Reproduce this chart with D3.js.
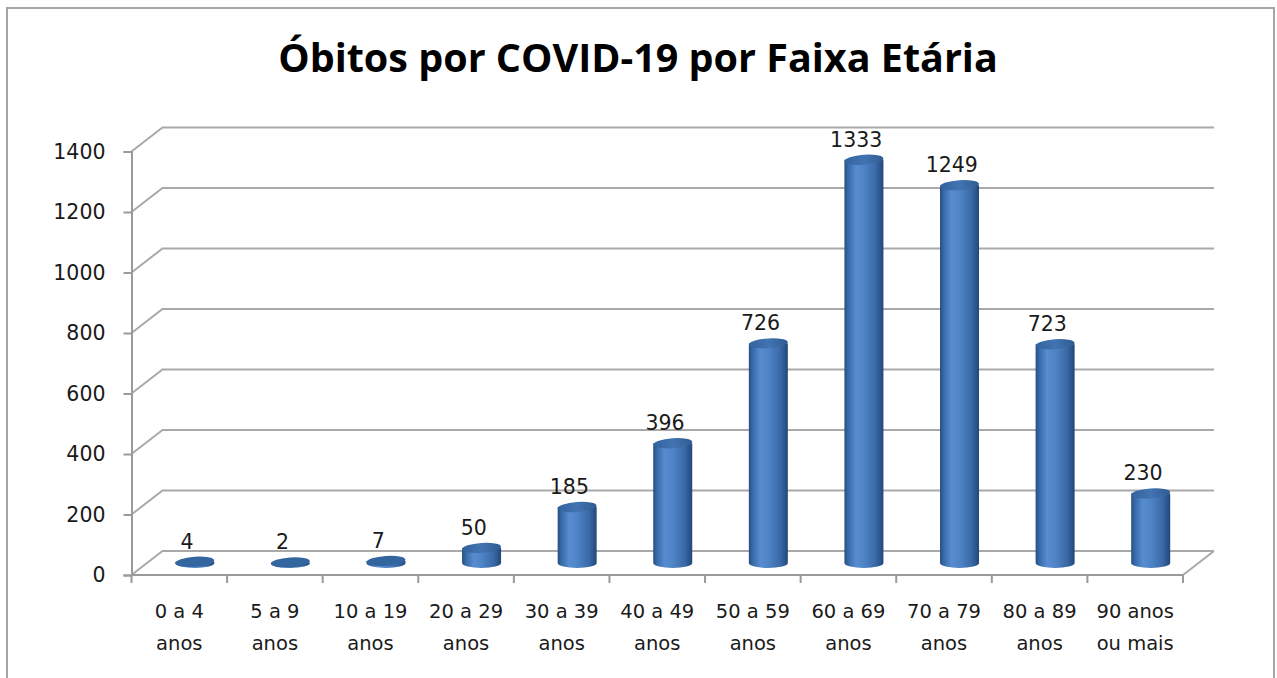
<!DOCTYPE html>
<html>
<head>
<meta charset="utf-8">
<script src="https://cdnjs.cloudflare.com/ajax/libs/d3/7.8.5/d3.min.js"></script>
<style>
  body { margin: 0; background: #fff; }
  svg text { font-family: "DejaVu Sans", sans-serif; fill: #1a1a1a; }
</style>
</head>
<body>
<div id="chart"></div>
<script>
const categories = ['0 a 4|anos', '5 a 9|anos', '10 a 19|anos', '20 a 29|anos', '30 a 39|anos',
                    '40 a 49|anos', '50 a 59|anos', '60 a 69|anos', '70 a 79|anos', '80 a 89|anos',
                    '90 anos|ou mais'];
const deaths = [4, 2, 7, 50, 185, 396, 726, 1333, 1249, 723, 230];
const yTicks = [0, 200, 400, 600, 800, 1000, 1200, 1400];
const title = 'Óbitos por COVID-19 por Faixa Etária';

const w = 1277,
      h = 678,
      depthX = 31,
      depthY = -24;

const svg = d3.select('#chart')
              .append('svg')
              .attr('width', w)
              .attr('height', h);

// outer frame
svg.append('rect')
   .attr('x', 7).attr('y', 8)
   .attr('width', 1267).attr('height', 700)
   .attr('fill', 'none')
   .attr('stroke', '#a6a6a6')
   .attr('stroke-width', 2);

svg.append('text')
   .attr('x', 638)
   .attr('y', 72)
   .attr('text-anchor', 'middle')
   .style('font-family', '"Open Sans", sans-serif')
   .style('font-weight', 'bold')
   .style('font-size', '39.5px')
   .style('fill', '#000')
   .text(title);

const x = d3.scaleBand()
            .domain(categories)
            .range([131.5, 1183]);

const y = d3.scaleLinear()
            .domain([0, 1400])
            .range([575, 151.5]);

// gradients for the cylinders
const defs = svg.append('defs');
const bodyGrad = defs.append('linearGradient').attr('id', 'cylBody');
[['0%', '#274c7c'], ['8%', '#3567a5'], ['30%', '#578dd0'], ['50%', '#4f84c6'],
 ['80%', '#3a6aa8'], ['100%', '#23477a']].forEach(s => {
  bodyGrad.append('stop').attr('offset', s[0]).attr('stop-color', s[1]);
});
const topGrad = defs.append('linearGradient').attr('id', 'cylTop');
[['0%', '#34639e'], ['50%', '#4274b2'], ['100%', '#2f5b92']].forEach(s => {
  topGrad.append('stop').attr('offset', s[0]).attr('stop-color', s[1]);
});

// walls and gridlines
const grid = svg.append('g')
                .attr('stroke', '#a9a9a9')
                .attr('stroke-width', 2)
                .attr('fill', 'none');

yTicks.forEach(v => {
  const y0 = y(v);
  grid.append('path')
      .attr('d', `M${x.range()[0]},${y0} L${x.range()[0] + depthX},${y0 + depthY} L${x.range()[1] + depthX},${y0 + depthY}`);
});
grid.append('path')
    .attr('d', `M${x.range()[1] + depthX},${y(0) + depthY} L${x.range()[1]},${y(0)}`);

// cylinders
const rx = 19.5,
      ry = 5;

const bars = svg.append('g')
                .selectAll('g')
                .data(deaths)
                .enter()
                .append('g');

bars.each(function(d, i) {
  const g = d3.select(this);
  const cx = x(categories[i]) + x.bandwidth() / 2 + depthX / 2;
  const base = y(0) + depthY / 2;
  const yt = y(d) + depthY / 2;

  g.append('path')
   .attr('d', `M${cx - rx},${yt} L${cx - rx},${base} A${rx},${ry} 0 0 0 ${cx + rx},${base} L${cx + rx},${yt} Z`)
   .attr('fill', 'url(#cylBody)');

  g.append('ellipse')
   .attr('cx', cx)
   .attr('cy', yt)
   .attr('rx', rx)
   .attr('ry', ry)
   .attr('transform', `rotate(-4 ${cx} ${yt})`)
   .attr('fill', d < 20 ? '#33659f' : 'url(#cylTop)');

  g.append('text')
   .attr('x', cx - depthX / 4)
   .attr('y', yt - 13)
   .attr('text-anchor', 'middle')
   .style('font-size', '20.5px')
   .text(d);
});

// y axis
const axisY = d3.axisLeft(y)
                .tickValues(yTicks)
                .tickFormat(d3.format('d'))
                .tickSize(8)
                .tickPadding(18);

const gy = svg.append('g')
              .attr('transform', `translate(${x.range()[0]}, 0)`)
              .call(axisY);
gy.select('.domain').attr('stroke', '#9a9a9a').attr('stroke-width', 2);
gy.selectAll('.tick line').attr('stroke', '#9a9a9a').attr('stroke-width', 2);
gy.selectAll('.tick text')
  .style('font-family', '"DejaVu Sans", sans-serif')
  .style('font-size', '20.5px')
  .attr('fill', '#1a1a1a');

// x axis (floor front edge)
const gx = svg.append('g');
gx.append('line')
  .attr('x1', x.range()[0]).attr('x2', x.range()[1])
  .attr('y1', y(0)).attr('y2', y(0))
  .attr('stroke', '#9a9a9a')
  .attr('stroke-width', 2);

categories.concat([null]).forEach((c, i) => {
  const tx = c ? x(c) : x.range()[1];
  gx.append('line')
    .attr('x1', tx).attr('x2', tx)
    .attr('y1', y(0)).attr('y2', y(0) + 8)
    .attr('stroke', '#9a9a9a')
    .attr('stroke-width', 2);
});

categories.forEach(c => {
  const lines = c.split('|');
  const t = gx.append('text')
              .attr('x', x(c) + x.bandwidth() / 2)
              .attr('y', 618)
              .attr('text-anchor', 'middle')
              .style('font-size', '19.5px');
  lines.forEach((l, j) => {
    t.append('tspan')
     .attr('x', x(c) + x.bandwidth() / 2)
     .attr('dy', j === 0 ? 0 : 32)
     .text(l);
  });
});
</script>
</body>
</html>
